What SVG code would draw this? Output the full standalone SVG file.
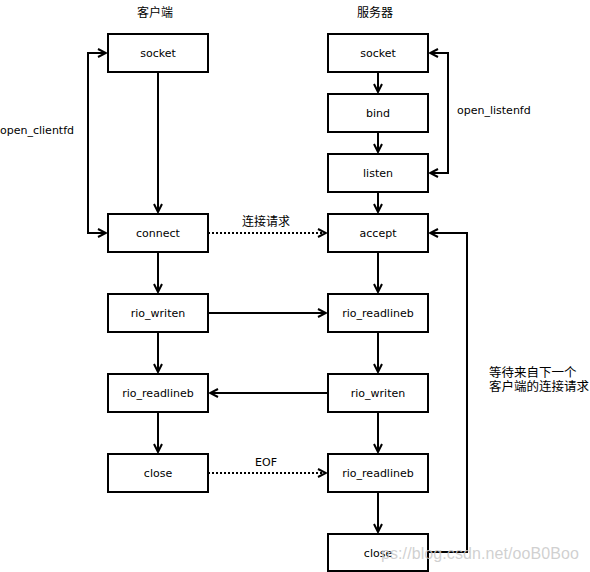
<svg xmlns="http://www.w3.org/2000/svg" width="590" height="572" viewBox="0 0 590 572">
<style>
.box{fill:#fff;stroke:#000;stroke-width:2}
.t{font-family:"DejaVu Sans",Verdana,sans-serif;font-size:11px;text-anchor:middle;dominant-baseline:central;fill:#000}
.lbl{font-family:"DejaVu Sans",Verdana,sans-serif;font-size:11px;dominant-baseline:central;fill:#000}
.cjk{font-family:"Noto Sans CJK SC",sans-serif;font-size:12px;dominant-baseline:central;fill:#000}
.ln{fill:none;stroke:#000;stroke-width:2}
.dot{fill:none;stroke:#000;stroke-width:2;stroke-dasharray:2 2}
</style>
<defs>
<marker id="ar" viewBox="0 0 10 10" refX="9" refY="5" markerWidth="10" markerHeight="10" markerUnits="userSpaceOnUse" orient="auto">
<path d="M1,1 L9,5 L1,9" fill="none" stroke="#000" stroke-width="2"/>
</marker>
</defs>
<rect width="590" height="572" fill="#fff"/>
<text class="cjk" x="155" y="11" text-anchor="middle">客户端</text>
<text class="cjk" x="375" y="11" text-anchor="middle">服务器</text>
<g id="connectors">
<path class="ln" d="M158,72 V212" marker-end="url(#ar)"/>
<path class="ln" d="M158,252 V292" marker-end="url(#ar)"/>
<path class="ln" d="M158,332 V372" marker-end="url(#ar)"/>
<path class="ln" d="M158,412 V452" marker-end="url(#ar)"/>
<path class="ln" d="M106,233 H88 V53 H106" marker-end="url(#ar)"/>
<path class="ln" d="M88,233 H106" marker-end="url(#ar)"/>
<path class="ln" d="M378,72 V92" marker-end="url(#ar)"/>
<path class="ln" d="M378,132 V152" marker-end="url(#ar)"/>
<path class="ln" d="M378,192 V212" marker-end="url(#ar)"/>
<path class="ln" d="M378,252 V292" marker-end="url(#ar)"/>
<path class="ln" d="M378,332 V372" marker-end="url(#ar)"/>
<path class="ln" d="M378,412 V452" marker-end="url(#ar)"/>
<path class="ln" d="M378,492 V532" marker-end="url(#ar)"/>
<path class="ln" d="M430,173 H448 V53 H430" marker-end="url(#ar)"/>
<path class="ln" d="M448,173 H430" marker-end="url(#ar)"/>
<path class="ln" d="M428,552 H467 V233 H430" marker-end="url(#ar)"/>
<path class="ln" d="M208,313 H326" marker-end="url(#ar)"/>
<path class="ln" d="M328,393 H210" marker-end="url(#ar)"/>
<path class="dot" d="M208,233 H326" marker-end="url(#ar)"/>
<path class="dot" d="M208,473 H326" marker-end="url(#ar)"/>
</g>
<text class="lbl" x="0" y="130">open_clientfd</text>
<text class="lbl" x="457" y="110">open_listenfd</text>
<text class="cjk" x="266" y="220" text-anchor="middle">连接请求</text>
<text class="lbl" x="266" y="462" text-anchor="middle">EOF</text>
<text class="cjk" x="489" y="371" style="font-size:12.5px">等待来自下一个</text>
<text class="cjk" x="489" y="385" style="font-size:12.5px">客户端的连接请求</text>
<g id="c_socket"><rect class="box" x="108" y="34" width="100" height="38"/><text class="t" x="158" y="53">socket</text></g>
<g id="c_connect"><rect class="box" x="108" y="214" width="100" height="38"/><text class="t" x="158" y="233">connect</text></g>
<g id="c_writen"><rect class="box" x="108" y="294" width="100" height="38"/><text class="t" x="158" y="313">rio_writen</text></g>
<g id="c_readlineb"><rect class="box" x="108" y="374" width="100" height="38"/><text class="t" x="158" y="393">rio_readlineb</text></g>
<g id="c_close"><rect class="box" x="108" y="454" width="100" height="38"/><text class="t" x="158" y="473">close</text></g>
<g id="s_socket"><rect class="box" x="328" y="34" width="100" height="38"/><text class="t" x="378" y="53">socket</text></g>
<g id="s_bind"><rect class="box" x="328" y="94" width="100" height="38"/><text class="t" x="378" y="113">bind</text></g>
<g id="s_listen"><rect class="box" x="328" y="154" width="100" height="38"/><text class="t" x="378" y="173">listen</text></g>
<g id="s_accept"><rect class="box" x="328" y="214" width="100" height="38"/><text class="t" x="378" y="233">accept</text></g>
<g id="s_readlineb1"><rect class="box" x="328" y="294" width="100" height="38"/><text class="t" x="378" y="313">rio_readlineb</text></g>
<g id="s_writen"><rect class="box" x="328" y="374" width="100" height="38"/><text class="t" x="378" y="393">rio_writen</text></g>
<g id="s_readlineb2"><rect class="box" x="328" y="454" width="100" height="38"/><text class="t" x="378" y="473">rio_readlineb</text></g>
<g id="s_close"><rect class="box" x="328" y="534" width="100" height="37"/><text class="t" x="378" y="553">close</text></g>
<text x="381" y="553" style="font-family:'Liberation Sans',Arial,sans-serif;font-size:16px;dominant-baseline:central;fill:#c8c8c8;fill-opacity:0.85" textLength="198">ps://blog.csdn.net/ooB0Boo</text>
</svg>
